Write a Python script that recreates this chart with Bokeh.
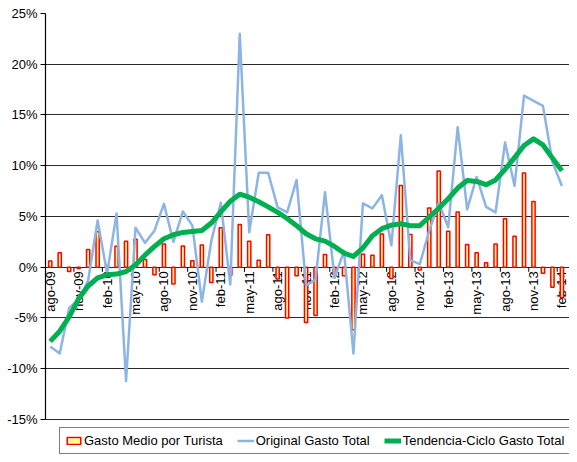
import numpy as np
from bokeh.plotting import figure
from bokeh.models import Range1d, FixedTicker, Legend, LegendItem
from bokeh.embed import file_html
from bokeh.resources import INLINE
from bokeh.core.properties import value

months = ["ago-09", "sep-09", "oct-09", "nov-09", "dic-09",
          "ene-10", "feb-10", "mar-10", "abr-10", "may-10", "jun-10", "jul-10", "ago-10", "sep-10", "oct-10", "nov-10", "dic-10",
          "ene-11", "feb-11", "mar-11", "abr-11", "may-11", "jun-11", "jul-11", "ago-11", "sep-11", "oct-11", "nov-11", "dic-11",
          "ene-12", "feb-12", "mar-12", "abr-12", "may-12", "jun-12", "jul-12", "ago-12", "sep-12", "oct-12", "nov-12", "dic-12",
          "ene-13", "feb-13", "mar-13", "abr-13", "may-13", "jun-13", "jul-13", "ago-13", "sep-13", "oct-13", "nov-13", "dic-13",
          "ene-14", "feb-14"]

gasto_medio = [0.61, 1.42, -0.42, -0.12, 1.74, 3.50, 0.16, 2.06, 2.55, 2.77,
               0.77, -0.74, 2.29, -1.65, 2.10, 0.65, 2.20, -1.50, 3.90, -0.80,
               4.20, 2.55, 0.70, 3.20, -1.15, -5.00, -0.85, -5.45, -4.75, 1.26,
               -0.74, -0.84, -6.15, 1.29, 1.19, 3.28, -1.10, 8.06, 3.22, -0.28,
               5.84, 9.48, 3.54, 5.45, 2.25, 1.42, 0.45, 2.30, 4.77, 3.05,
               9.28, 6.48, -0.58, -1.98, -3.00]

original_total = [-7.8, -8.5, -4.0, -3.2, -1.3, 4.6, -0.6, 5.3, -11.2, 3.9,
                  2.4, 3.6, 6.25, 2.5, 5.5, 4.1, -3.4, 2.6, 6.35, -1.7,
                  23.0, 3.45, 9.3, 9.3, 5.9, 5.4, 8.6, -1.8, -1.2, 7.4,
                  -1.06, 1.6, -8.5, 6.3, 5.8, 7.1, 2.16, 13.0, 0.7, 0.3,
                  3.6, 6.35, 3.94, 13.8, 5.7, 8.9, 5.95, 5.4, 12.3, 8.0,
                  16.9, 16.4, 15.9, 10.4, 8.0]

tendencia = [-7.3, -6.3, -4.9, -3.1, -1.85, -1.05, -0.75, -0.67, -0.42, 0.22,
             1.19, 2.05, 2.8, 3.2, 3.43, 3.53, 3.62, 4.35, 5.45, 6.5,
             7.2, 6.9, 6.45, 5.95, 5.4, 4.8, 4.1, 3.3, 2.8, 2.57,
             2.05, 1.4, 1.06, 1.9, 3.1, 3.8, 4.15, 4.28, 4.1, 4.1,
             4.95, 5.8, 6.75, 7.8, 8.55, 8.45, 8.13, 8.6, 9.65, 10.8,
             12.0, 12.65, 12.05, 10.75, 9.5]

tick_labels = ["ago-09", "nov-09", "feb-10", "may-10", "ago-10", "nov-10", "feb-11",
               "may-11", "ago-11", "nov-11", "feb-12", "may-12", "ago-12", "nov-12",
               "feb-13", "may-13", "ago-13", "nov-13", "feb-14"]

y_ticks = [-15, -10, -5, 0, 5, 10, 15, 20, 25]

FONT = "Liberation Sans"

x = list(range(len(months)))
tick_x = [months.index(t) for t in tick_labels]

# frame extends below -15% to leave room for the legend inside the frame
p = figure(width=569, height=454, output_backend="svg", toolbar_location=None,
           x_range=Range1d(-0.5, 54.8), y_range=Range1d(-18.45, 25),
           x_axis_location=None,
           min_border_left=45, min_border_right=0, min_border_top=13, min_border_bottom=0)
p.outline_line_color = None
p.background_fill_color = "white"
p.border_fill_color = "white"
p.xgrid.visible = False
p.ygrid.ticker = FixedTicker(ticks=y_ticks)
p.ygrid.grid_line_color = "#2a2a2a"
p.ygrid.grid_line_width = 1.2

yax = p.yaxis[0]
yax.ticker = FixedTicker(ticks=y_ticks)
yax.bounds = (y_ticks[0], y_ticks[-1])
yax.major_label_overrides = {t: f"{t}%" for t in y_ticks}
yax.axis_line_color = "black"
yax.axis_line_width = 1.2
yax.major_tick_line_color = "black"
yax.major_tick_out = 5
yax.major_tick_in = 0
yax.minor_tick_line_color = None
yax.major_label_standoff = 3
yax.major_label_text_font = FONT
yax.major_label_text_font_size = "13px"
yax.major_label_text_color = "black"

# category tick marks on the zero line
p.segment(x0=[i - 0.5 for i in tick_x], y0=[0] * len(tick_x),
          x1=[i - 0.5 for i in tick_x], y1=[-0.45] * len(tick_x),
          line_color="black", line_width=1)

# category labels (rotated) under the zero line
p.text(x=tick_x, y=[-0.4] * len(tick_x), text=tick_labels, angle=np.pi / 2,
       text_align="right", text_baseline="middle",
       text_font=value(FONT), text_font_size="13px", text_color="black")

bars = p.vbar(x=x, top=gasto_medio, bottom=0, width=0.34,
              fill_color="#FFFF99", line_color="#FF0000", line_width=1.5)
orig = p.line(x=x, y=original_total, line_color="#8DB4E2", line_width=2.5,
              line_join="round")
trend = p.line(x=x, y=tendencia, line_color="#00B050", line_width=5,
               line_join="round")

legend = Legend(items=[LegendItem(label="Gasto Medio por Turista", renderers=[bars]),
                       LegendItem(label="Original Gasto Total", renderers=[orig]),
                       LegendItem(label="Tendencia-Ciclo Gasto Total", renderers=[trend])],
                location=(14, 0), orientation="horizontal",
                glyph_width=17, glyph_height=9, label_height=14,
                label_standoff=2, spacing=14, padding=5, margin=0,
                label_text_font=FONT, label_text_font_size="13px",
                label_text_color="black",
                border_line_color="black", border_line_width=1,
                background_fill_color="white", background_fill_alpha=1.0)
p.add_layout(legend)

open("out.html", "w").write(file_html(p, INLINE))
